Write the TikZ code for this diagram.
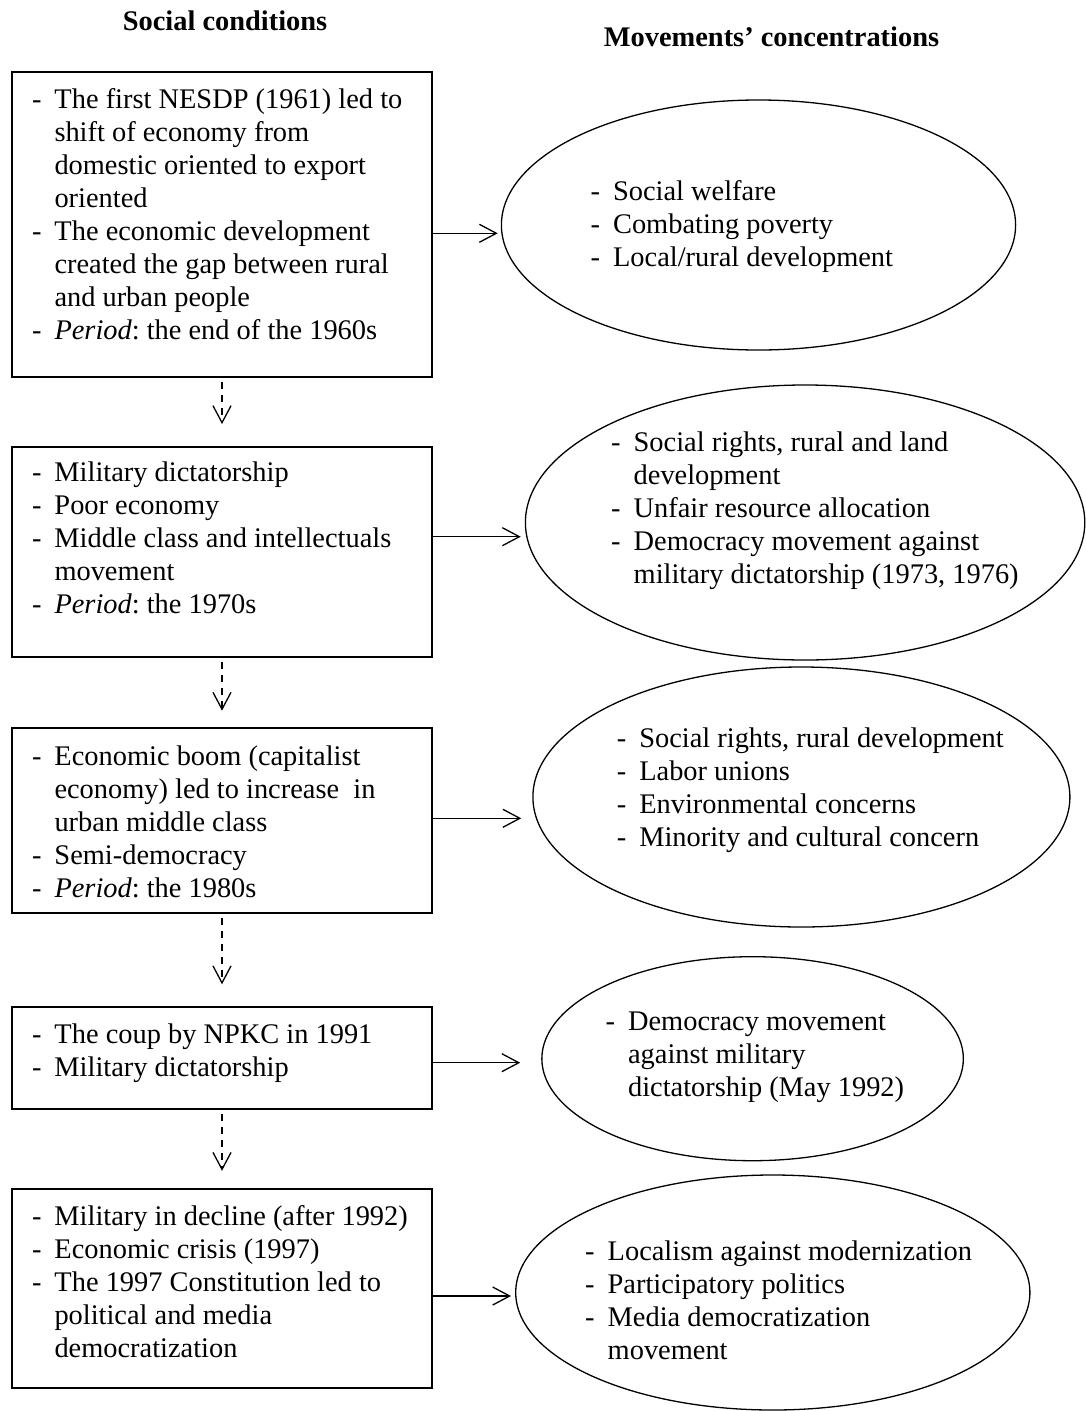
\documentclass[tikz,border=0pt]{standalone}
\usepackage{fontspec}
\setmainfont{Liberation Serif}
\usetikzlibrary{shapes.geometric,arrows.meta}
\frenchspacing
\newlength\dashw
\setlength\dashw{22.5pt}
\newcommand\dd{\makebox[\dashw][l]{-}}
\newcommand\cc{\hspace*{\dashw}}
\newcommand\itemlines[1]{\parbox[t]{540pt}{\frenchspacing\fontsize{28.4}{33}\selectfont #1}}
\begin{document}
\begin{tikzpicture}[x=1pt, y=-1pt,
  box/.style={draw, rectangle, line width=1.8pt, inner sep=0pt, minimum width=420pt},
  oval/.style={draw, ellipse, line width=1.3pt, inner sep=0pt},
  txt/.style={anchor=base west, inner sep=0pt, font=\fontsize{28.4}{33}\selectfont},
  head/.style={anchor=base, inner sep=0pt, font=\fontsize{28.4}{33}\selectfont\bfseries},
  arr/.style={line width=1.3pt, -{Straight Barb[length=17pt,width=18pt]}},
  darr/.style={arr, dash pattern=on 7pt off 6pt, shorten <=4pt}]
\fill[white] (0,0) rectangle (1086,1411);
\useasboundingbox (0,0) rectangle (1086,1411);

% headings
\node[head] (h1) at (225,30.7) {Social conditions};
\node[head] (h2) at (771.5,46.7) {Movements’ concentrations};

% boxes
\node[box, minimum height=305pt] (b1) at (222,224.5) {};
\node[box, minimum height=210pt] (b2) at (222,552) {};
\node[box, minimum height=185pt] (b3) at (222,820.7) {};
\node[box, minimum height=102pt] (b4) at (222,1058.2) {};
\node[box, minimum height=199pt] (b5) at (222,1288.8) {};

% box texts
\node[txt] (t1) at (31.8,108.3) {\itemlines{\dd The first NESDP (1961) led to\\
\cc shift of economy from\\
\cc domestic oriented to export\\
\cc oriented\\
\dd The economic development\\
\cc created the gap between rural\\
\cc and urban people\\
\dd \textit{Period}: the end of the 1960s}};
\node[txt] (t2) at (31.8,481.7) {\itemlines{\dd Military dictatorship\\
\dd Poor economy\\
\dd Middle class and intellectuals\\
\cc movement\\
\dd \textit{Period}: the 1970s}};
\node[txt] (t3) at (31.8,765.7) {\itemlines{\dd Economic boom (capitalist\\
\cc economy) led to increase\ \ in\\
\cc urban middle class\\
\dd Semi-democracy\\
\dd \textit{Period}: the 1980s}};
\node[txt] (t4) at (31.8,1043.3) {\itemlines{\dd The coup by NPKC in 1991\\
\dd Military dictatorship}};
\node[txt] (t5) at (31.8,1225) {\itemlines{\dd Military in decline (after 1992)\\
\dd Economic crisis (1997)\\
\dd The 1997 Constitution led to\\
\cc political and media\\
\cc democratization}};

% ellipses
\node[oval, minimum width=514.2pt, minimum height=250pt] (e1) at (758.5,225) {};
\node[oval, minimum width=559.4pt, minimum height=275pt] (e2) at (805.1,522.5) {};
\node[oval, minimum width=537pt, minimum height=260pt] (e3) at (801.4,797) {};
\node[oval, minimum width=421.5pt, minimum height=204pt] (e4) at (752.6,1058.7) {};
\node[oval, minimum width=514.2pt, minimum height=235pt] (e5) at (772.8,1292.5) {};

% ellipse texts
\node[txt] (s1) at (590.4,200) {\itemlines{\dd Social welfare\\
\dd Combating poverty\\
\dd Local/rural development}};
\node[txt] (s2) at (611,451.7) {\itemlines{\dd Social rights, rural and land\\
\cc development\\
\dd Unfair resource allocation\\
\dd Democracy movement against\\
\cc military dictatorship (1973, 1976)}};
\node[txt] (s3) at (616.6,747) {\itemlines{\dd Social rights, rural development\\
\dd Labor unions\\
\dd Environmental concerns\\
\dd Minority and cultural concern}};
\node[txt] (s4) at (605.4,1030) {\itemlines{\dd Democracy movement\\
\cc against military\\
\cc dictatorship (May 1992)}};
\node[txt] (s5) at (585,1260) {\itemlines{\dd Localism against modernization\\
\dd Participatory politics\\
\dd Media democratization\\
\cc movement}};

% horizontal arrows
\draw[arr, shorten >=3pt] (b1.east |- 0,233.3) -- (e1.west |- 0,233.3);
\draw[arr, shorten >=4pt] (b2.east |- 0,536.7) -- (e2.west |- 0,536.7);
\draw[arr, shorten >=11pt] (b3.east |- 0,818.3) -- (e3.west |- 0,818.3);
\draw[arr, shorten >=21pt] (b4.east |- 0,1062.7) -- (e4.west |- 0,1062.7);
\draw[arr, shorten >=4pt] (b5.east |- 0,1296) -- (e5.west |- 0,1296);

% dashed arrows
\draw[darr, shorten >=22pt] (b1) -- (b2);
\draw[darr, shorten >=16.6pt] (b2) -- (b3);
\draw[darr, shorten >=22pt] (b3) -- (b4);
\draw[darr, shorten >=17.6pt] (b4) -- (b5);
\end{tikzpicture}
\end{document}
